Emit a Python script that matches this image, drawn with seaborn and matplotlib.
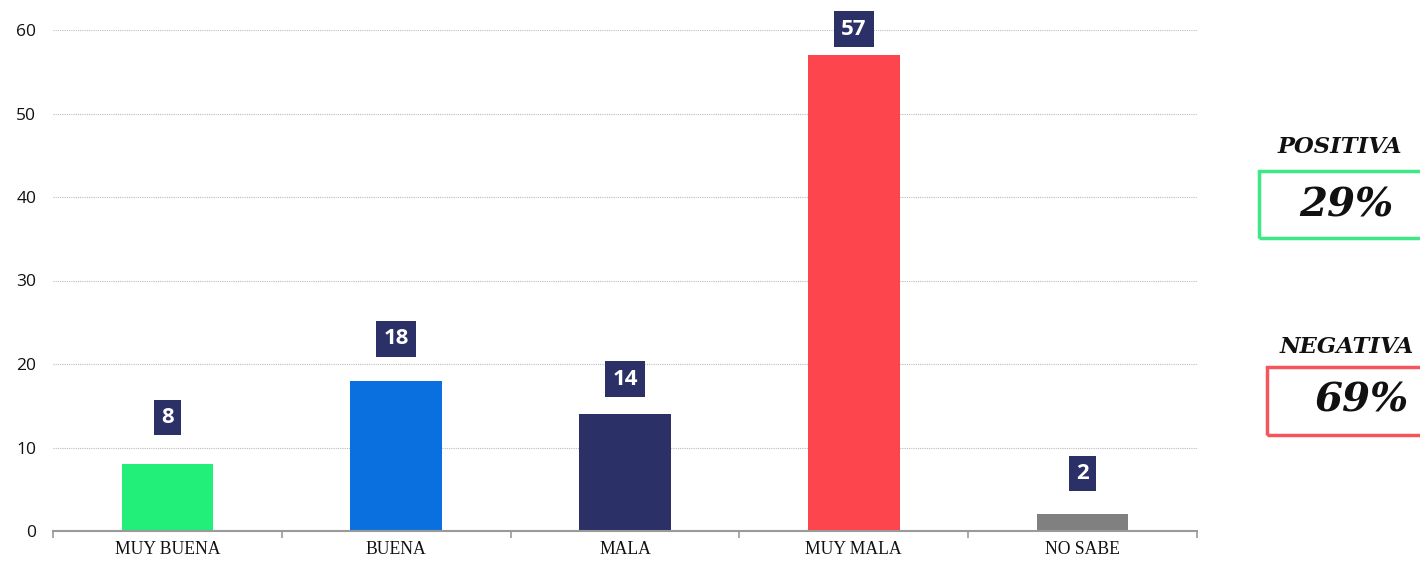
import matplotlib
matplotlib.use("Agg")
import matplotlib.pyplot as plt
import seaborn as sns
import pandas as pd
from matplotlib.patches import Rectangle

categories = ["MUY BUENA", "BUENA", "MALA", "MUY MALA", "NO SABE"]
values = [8, 18, 14, 57, 2]
colors = ["#22EE7A", "#0A70E0", "#2B3167", "#FC454D", "#808080"]
y_ticks = [0, 10, 20, 30, 40, 50, 60]
summary_titles = ["POSITIVA", "NEGATIVA"]
summary_values = ["29%", "69%"]
summary_colors = ["#3FE887", "#F4565C"]

# layout offsets for value labels (in data units above bar top)
label_offsets = [5.6, 5.0, 4.2, 3.1, 4.9]

sns.set_theme(style="white")
plt.rcParams["font.family"] = ["Open Sans", "DejaVu Sans"]

df = pd.DataFrame({"cat": categories, "val": values})

fig = plt.figure(figsize=(14.2, 5.61), dpi=100)
ax = fig.add_axes([53/1420, 30/561, (1197-53)/1420, (531-30)/561])

sns.barplot(data=df, x="cat", y="val", hue="cat", palette=colors,
            width=0.4, legend=False, ax=ax, saturation=1, linewidth=0, edgecolor="none")

ax.set_xlim(-0.5, 4.5)
ax.set_ylim(0, 60)
ax.set_yticks(y_ticks)
ax.set_yticklabels([str(t) for t in y_ticks], fontsize=12.5, color="#111111")
ax.set_xlabel("")
ax.set_ylabel("")
for y in y_ticks[1:]:
    ax.axhline(y, color="#BBBBBB", lw=0.8, ls=(0, (1, 1)), zorder=0)

for s in ["top", "right", "left"]:
    ax.spines[s].set_visible(False)
ax.spines["bottom"].set_color("#9A9A9A")
ax.spines["bottom"].set_linewidth(1.5)

# category labels centered, ticks at boundaries
ax.set_xticks(range(len(categories)))
ax.set_xticklabels(categories, fontsize=12.7, family="Liberation Serif", color="#111111")
ax.tick_params(axis="x", length=0, pad=7)
ax.tick_params(axis="y", length=0, pad=12)
ax.set_xticks([i - 0.5 for i in range(len(categories) + 1)], minor=True)
ax.tick_params(axis="x", which="minor", length=5, width=1.2, color="#9A9A9A", bottom=True)

for i, (v, off) in enumerate(zip(values, label_offsets)):
    ax.text(i, v + off, str(v), ha="center", va="center", color="white",
            fontsize=16, fontweight="bold", clip_on=False,
            bbox=dict(boxstyle="square,pad=0.33", fc="#2B3167", ec="none"))

# summary boxes on the right: (box left, box top, box bottom, title x, title y, value x, value y)
box_specs = [(1259, 171, 238, 1340, 147, 1346, 205),
             (1267, 367, 435, 1347, 347, 1361, 401)]
for (x0, ytop, ybot, tx, ty, vx, vy), title, val, col in zip(box_specs, summary_titles, summary_values, summary_colors):
    fig.patches.append(Rectangle((x0/1420, 1 - ybot/561), (1440 - x0)/1420, (ybot - ytop)/561,
                                 transform=fig.transFigure, fill=False, ec=col, lw=2.5))
    fig.text(tx/1420, 1 - ty/561, title, ha="center", va="center", fontsize=16.3,
             family="DejaVu Serif", fontweight="bold", style="italic", color="#111111")
    fig.text(vx/1420, 1 - vy/561, val, ha="center", va="center", fontsize=29,
             family="DejaVu Serif", fontweight="bold", style="italic", color="#111111")

fig.savefig("out.png", dpi=100, facecolor="white")
